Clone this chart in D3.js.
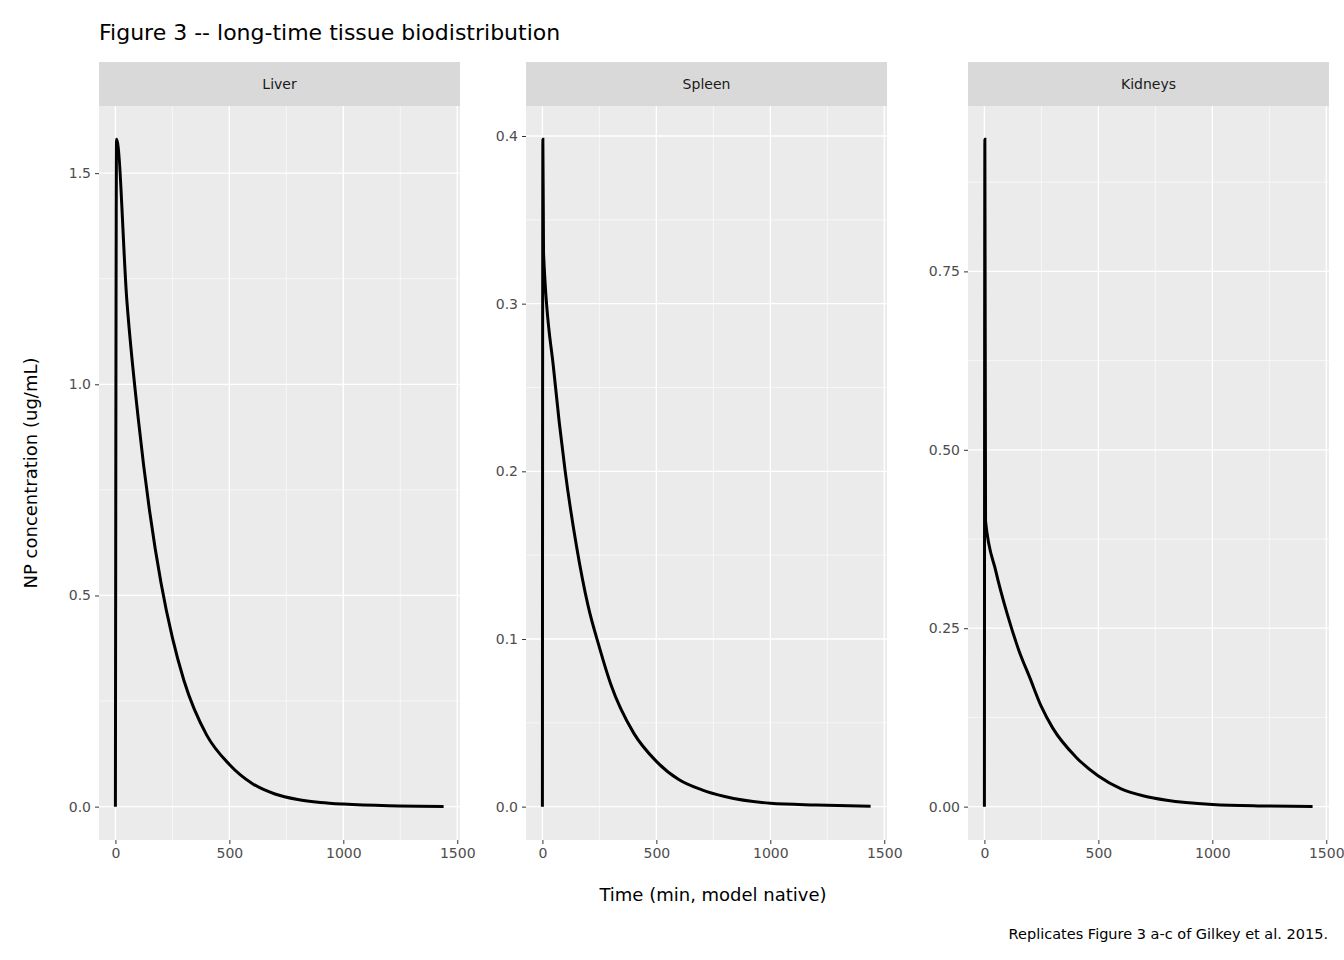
<!DOCTYPE html>
<html>
<head>
<meta charset="utf-8">
<script src="https://cdn.jsdelivr.net/npm/d3@7"></script>
<style>
  body { margin: 0; background: #fff; }
  text { font-family: "DejaVu Sans", sans-serif; }
</style>
</head>
<body>
<svg id="chart" width="1344" height="960"></svg>
<script>
// facet names
const tissues = ['Liver', 'Spleen', 'Kidneys'];

// time points (min) and concentrations
const liverTime = [0, 5, 50, 100, 150, 200, 250, 300, 400, 500, 600, 700, 800, 900, 1000, 1200, 1440];
const liverConc = [0, 1.58, 1.20, 0.92, 0.70, 0.53, 0.40, 0.30, 0.17, 0.10, 0.055, 0.03, 0.017, 0.01, 0.006, 0.002, 0.0005];

const spleenTime = [0, 2, 5, 50, 100, 150, 200, 250, 300, 400, 500, 600, 700, 800, 1000, 1200, 1440];
const spleenConc = [0, 0.398, 0.33, 0.26, 0.20, 0.155, 0.12, 0.095, 0.073, 0.044, 0.027, 0.016, 0.01, 0.006, 0.002, 0.001, 0.0003];

const kidneyTime = [0, 2, 5, 50, 100, 150, 200, 250, 300, 400, 500, 600, 700, 800, 1000, 1200, 1440];
const kidneyConc = [0, 0.935, 0.40, 0.33, 0.27, 0.22, 0.18, 0.14, 0.11, 0.07, 0.043, 0.025, 0.015, 0.009, 0.003, 0.001, 0.0003];

const xTicks = [0, 500, 1000, 1500];
const liverTicks = [0, 0.5, 1.0, 1.5];
const spleenTicks = [0, 0.1, 0.2, 0.3, 0.4];
const kidneyTicks = [0, 0.25, 0.5, 0.75];

const series = [
  { time: liverTime, conc: liverConc, ticks: liverTicks, fmt: d3.format('.1f'), left: 99, right: 460 },
  { time: spleenTime, conc: spleenConc, ticks: spleenTicks, fmt: d3.format('.1f'), left: 526, right: 887 },
  { time: kidneyTime, conc: kidneyConc, ticks: kidneyTicks, fmt: d3.format('.2f'), left: 968, right: 1329 }
];

const svg = d3.select('#chart');
const panelTop = 106, panelBottom = 840;

series.forEach((s, i) => {
  const ymax = d3.max(s.conc);
  const x = d3.scaleLinear().domain([-72, 1512]).range([s.left, s.right]);
  const y = d3.scaleLinear().domain([-ymax * 0.05, ymax * 1.05]).range([panelBottom, panelTop]);
  const g = svg.append('g');

  // strip
  g.append('rect').attr('x', s.left).attr('y', 62).attr('width', s.right - s.left).attr('height', panelTop - 62).attr('fill', '#d9d9d9');
  g.append('text').attr('x', (s.left + s.right) / 2).attr('y', 84).attr('dy', '0.35em')
    .attr('text-anchor', 'middle').attr('font-size', 14).attr('fill', '#1a1a1a').text(tissues[i]);

  // panel
  g.append('rect').attr('x', s.left).attr('y', panelTop).attr('width', s.right - s.left).attr('height', panelBottom - panelTop).attr('fill', '#ebebeb');

  const step = s.ticks[1] - s.ticks[0];
  const minorY = s.ticks.map(t => t + step / 2).filter(t => y(t) > panelTop);
  const minorX = [250, 750, 1250];
  g.selectAll('.mx').data(minorX).join('line')
    .attr('x1', d => x(d)).attr('x2', d => x(d)).attr('y1', panelTop).attr('y2', panelBottom)
    .attr('stroke', '#fff').attr('stroke-width', 0.6);
  g.selectAll('.my').data(minorY).join('line')
    .attr('x1', s.left).attr('x2', s.right).attr('y1', d => y(d)).attr('y2', d => y(d))
    .attr('stroke', '#fff').attr('stroke-width', 0.6);
  g.selectAll('.gx').data(xTicks).join('line')
    .attr('x1', d => x(d)).attr('x2', d => x(d)).attr('y1', panelTop).attr('y2', panelBottom)
    .attr('stroke', '#fff').attr('stroke-width', 1.3);
  g.selectAll('.gy').data(s.ticks).join('line')
    .attr('x1', s.left).attr('x2', s.right).attr('y1', d => y(d)).attr('y2', d => y(d))
    .attr('stroke', '#fff').attr('stroke-width', 1.3);

  // axes
  const ax = g.append('g').attr('transform', `translate(0,${panelBottom})`)
    .call(d3.axisBottom(x).tickValues(xTicks).tickSize(4).tickPadding(4).tickFormat(d3.format('d')));
  const ay = g.append('g').attr('transform', `translate(${s.left},0)`)
    .call(d3.axisLeft(y).tickValues(s.ticks).tickSize(4).tickPadding(4).tickFormat(s.fmt));
  [ax, ay].forEach(a => {
    a.select('.domain').remove();
    a.selectAll('line').attr('stroke', '#333');
    a.selectAll('text').attr('font-size', 14).attr('fill', '#4d4d4d').attr('font-family', 'DejaVu Sans');
  });

  const pts = s.time.map((t, k) => [t, s.conc[k]]);
  g.append('path').datum(pts)
    .attr('d', d3.line().x(d => x(d[0])).y(d => y(d[1])).curve(d3.curveMonotoneX))
    .attr('fill', 'none').attr('stroke', '#000').attr('stroke-width', 3);
});

svg.append('text').attr('x', 99).attr('y', 40).attr('font-size', 22).attr('fill', '#000')
  .text('Figure 3 -- long-time tissue biodistribution');
svg.append('text').attr('x', 713).attr('y', 901).attr('text-anchor', 'middle').attr('font-size', 18)
  .text('Time (min, model native)');
svg.append('text').attr('transform', 'translate(37,473) rotate(-90)').attr('text-anchor', 'middle').attr('font-size', 18)
  .text('NP concentration (ug/mL)');
svg.append('text').attr('x', 1328).attr('y', 939).attr('text-anchor', 'end').attr('font-size', 14.5)
  .text('Replicates Figure 3 a-c of Gilkey et al. 2015.');
</script>
</body>
</html>
